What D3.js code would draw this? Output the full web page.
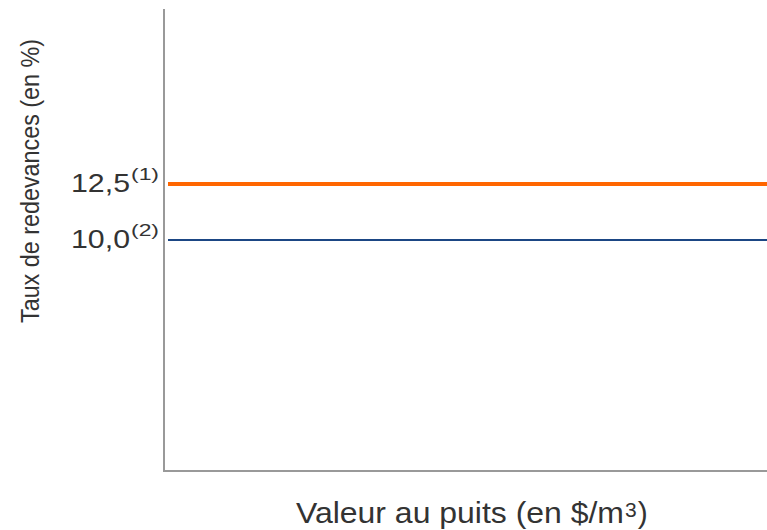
<!DOCTYPE html>
<html>
<head>
<meta charset="utf-8">
<script src="https://cdn.jsdelivr.net/npm/d3@7"></script>
<style>
  html, body { margin: 0; padding: 0; background: #fff; }
  svg { display: block; font-family: "Liberation Sans", Arial, sans-serif; }
</style>
</head>
<body>
<svg id="chart" width="767" height="530"></svg>
<script>
// ---- data ----
const rates = [12.5, 10.0];
const rateLabels = ["12,5", "10,0"];
const rateNotes = ["(1)", "(2)"];
const rateColors = ["#ff6600", "#1b4684"];
const rateWidths = [4, 2];
const xDomain = [0, 1];
const yDomain = [0, 20];
const yTitle = "Taux de redevances (en %)";
const xTitleMain = "Valeur au puits (en $/m";
const xTitleSup = "3";
const xTitleEnd = ")";

const svg = d3.select("#chart");
const textColor = "#333333";
const axisColor = "#999999";

const x = d3.scaleLinear().domain(xDomain).range([168, 767]);
const y = d3.scaleLinear().domain(yDomain).range([464, 16]);

// axes frame
svg.append("line")
  .attr("x1", 164).attr("x2", 164)
  .attr("y1", y(yDomain[1]) - 7).attr("y2", y(yDomain[0]) + 8)
  .attr("stroke", axisColor).attr("stroke-width", 2);
svg.append("line")
  .attr("x1", 163).attr("x2", 767)
  .attr("y1", y(yDomain[0]) + 7).attr("y2", y(yDomain[0]) + 7)
  .attr("stroke", axisColor).attr("stroke-width", 2);

// rate lines
svg.selectAll("line.rate")
  .data(rates)
  .join("line")
  .attr("class", "rate")
  .attr("x1", x(xDomain[0])).attr("x2", x(xDomain[1]))
  .attr("y1", d => y(d)).attr("y2", d => y(d))
  .attr("stroke", (d, i) => rateColors[i])
  .attr("stroke-width", (d, i) => rateWidths[i]);

// tick labels
const g = svg.selectAll("g.tick").data(rates).join("g").attr("class", "tick");
g.append("text")
  .attr("x", 130)
  .attr("y", d => y(d) + 8)
  .attr("text-anchor", "end")
  .attr("font-size", 25)
  .attr("fill", textColor)
  .attr("textLength", 59)
  .attr("lengthAdjust", "spacingAndGlyphs")
  .text((d, i) => rateLabels[i]);
g.append("text")
  .attr("x", 131)
  .attr("y", d => y(d) - 4)
  .attr("font-size", 17)
  .attr("fill", textColor)
  .attr("textLength", 28)
  .attr("lengthAdjust", "spacingAndGlyphs")
  .text((d, i) => rateNotes[i]);

// y title
svg.append("text")
  .attr("transform", "translate(39,181) rotate(-90)")
  .attr("text-anchor", "middle")
  .attr("font-size", 26)
  .attr("fill", textColor)
  .attr("textLength", 284)
  .attr("lengthAdjust", "spacingAndGlyphs")
  .text(yTitle);

// x title
svg.append("text")
  .attr("x", 296).attr("y", 523)
  .attr("font-size", 30)
  .attr("fill", textColor)
  .attr("textLength", 328)
  .attr("lengthAdjust", "spacingAndGlyphs")
  .text(xTitleMain);
const supX = 296 + 329;
const sup = svg.append("text")
  .attr("x", supX).attr("y", 517)
  .attr("font-size", 21)
  .attr("fill", textColor)
  .text(xTitleSup);
const supW = sup.node().getComputedTextLength();
svg.append("text")
  .attr("x", supX + supW + 1).attr("y", 523)
  .attr("font-size", 30)
  .attr("fill", textColor)
  .text(xTitleEnd);
</script>
</body>
</html>
